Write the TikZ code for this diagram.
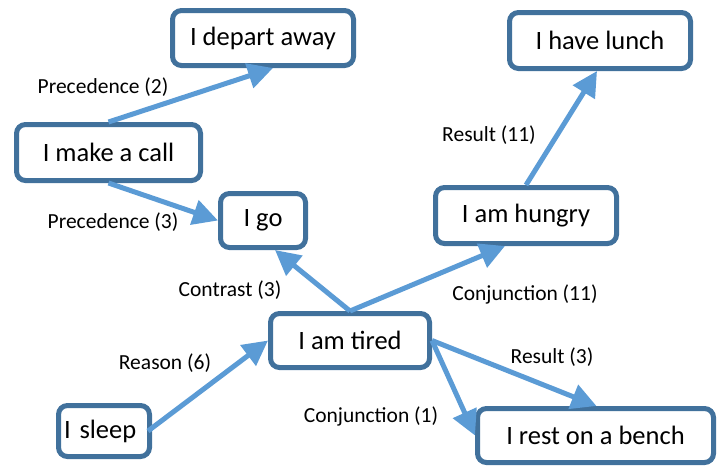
\documentclass[tikz,border=0pt]{standalone}
\usepackage{fontspec}
\setmainfont{Carlito}
\usetikzlibrary{arrows.meta}
\definecolor{boxline}{HTML}{41719C}
\definecolor{arrowc}{HTML}{5B9BD5}
\begin{document}
\begin{tikzpicture}[x=1pt,y=-1pt,
  evbox/.style={draw=boxline, line width=5pt, rounded corners=9pt, fill=white,
    inner sep=0pt, font=\fontsize{26.5}{30}\selectfont},
  rel/.style={draw=arrowc, line width=5pt, -{Triangle[length=25pt,width=25pt]}},
  lbl/.style={font=\fontsize{21.5}{24}\selectfont, inner sep=0pt}]
\useasboundingbox (0,0) rectangle (717,467);
\node[evbox, minimum width=181pt, minimum height=55pt] (depart) at (263,38) {I depart away};
\node[evbox, minimum width=181pt, minimum height=56pt] (lunch) at (600,40.5) {I have lunch};
\node[evbox, minimum width=184pt, minimum height=56pt] (call) at (108.5,152.5) {I make a call};
\node[evbox, minimum width=85pt, minimum height=54pt] (go) at (263,220.5) {I go};
\node[evbox, minimum width=181pt, minimum height=56pt] (hungry) at (526,215.5) {I am hungry};
\node[evbox, minimum width=159pt, minimum height=54pt] (tired) at (350,340.5) {I am tired};
\node[evbox, minimum width=91pt, minimum height=51pt, align=left, text width=80pt] (sleep) at (104,431) {I sleep};
\node[evbox, minimum width=236pt, minimum height=54pt] (rest) at (595.5,435.5) {I rest on a bench};

\draw[rel] (call.north) -- ([xshift=10pt]depart.south);
\draw[rel] (call.south) -- (go.west);
\draw[rel] (tired.north) -- ([xshift=12pt]go.south);
\draw[rel] (tired.north) -- ([xshift=-21pt]hungry.south);
\draw[rel] (hungry.north) -- ([xshift=-3pt]lunch.south);
\draw[rel] ([xshift=-4pt]sleep.east) -- (tired.west);
\draw[rel] (tired.east) -- ([xshift=1pt]rest.north);
\draw[rel] (tired.east) -- (rest.west);

\node[lbl] (l1) at (103,87) {Precedence (2)};
\node[lbl] (l2) at (113,222) {Precedence (3)};
\node[lbl] (l3) at (489,135) {Result (11)};
\node[lbl] (l4) at (230,290) {Contrast (3)};
\node[lbl] (l5) at (525,294) {Conjunction (11)};
\node[lbl] (l6) at (165,363) {Reason (6)};
\node[lbl] (l7) at (552,357) {Result (3)};
\node[lbl] (l8) at (371,416) {Conjunction (1)};
\end{tikzpicture}
\end{document}
